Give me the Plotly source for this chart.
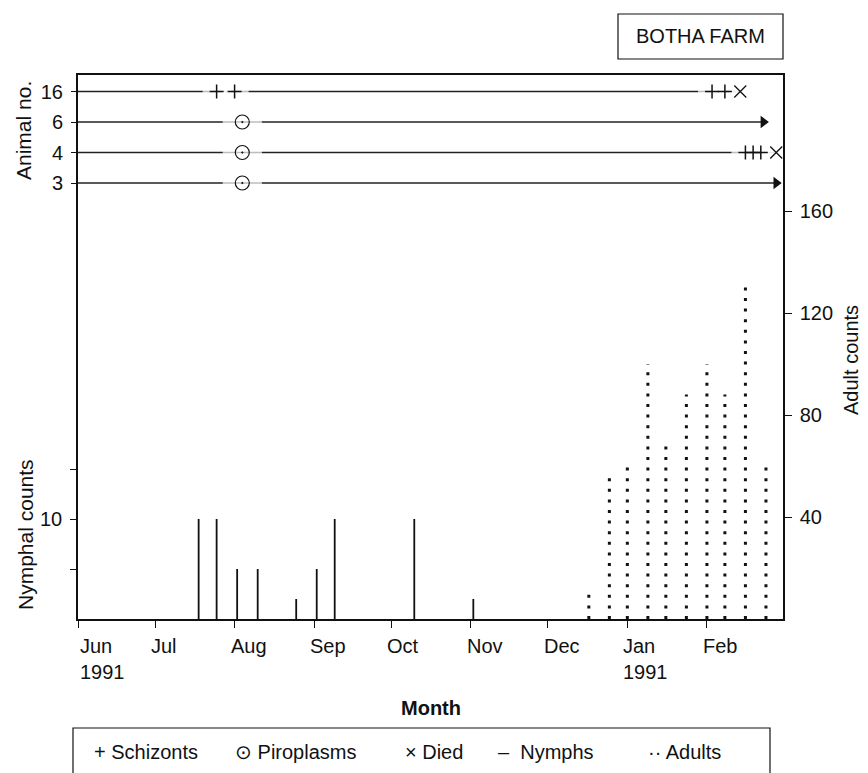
import plotly.graph_objects as go

# ---------------- data ----------------
month_ticks = ["1991-06-01", "1991-07-01", "1991-08-01", "1991-09-01", "1991-10-01",
               "1991-11-01", "1991-12-01", "1992-01-01", "1992-02-01"]
month_labels = ["Jun<br>1991", "Jul", "Aug", "Sep", "Oct", "Nov", "Dec", "Jan<br>1991", "Feb"]

nymph_dates = ["1991-07-18", "1991-07-25", "1991-08-02", "1991-08-10", "1991-08-25",
               "1991-09-02", "1991-09-09", "1991-10-10", "1991-11-02"]
nymph_counts = [10, 10, 5, 5, 2, 5, 10, 10, 2]

adult_dates = ["1991-12-17", "1991-12-25", "1992-01-01", "1992-01-09", "1992-01-16",
               "1992-01-24", "1992-02-01", "1992-02-08", "1992-02-16", "1992-02-24"]
adult_counts = [12, 56, 60, 100, 68, 88, 100, 88, 130, 60]

animal_ids = ["3", "4", "6", "16"]            # bottom to top
animal_start = ["1991-06-01"] * 4
animal_end = ["1992-02-28", "1992-02-28", "1992-02-23", "1992-02-14"]
animal_fate = ["alive", "died", "alive", "died"]

piroplasm_animal = ["3", "4", "6"]
piroplasm_dates = ["1991-08-04", "1991-08-04", "1991-08-04"]

schizont_animal = ["16", "16", "16", "16", "4", "4", "4"]
schizont_dates = ["1991-07-25", "1991-08-01", "1992-02-03", "1992-02-08",
                  "1992-02-16", "1992-02-19", "1992-02-22"]

nymph_ticks = [5, 10, 15]
nymph_ticktext = ["", "10", ""]
adult_ticks = [40, 80, 120, 160]

legend_items = ["+ Schizonts", "⊙ Piroplasms", "× Died", "–  Nymphs", "·· Adults"]
legend_px = [92, 233, 403, 496, 646]

# ---------------- helpers ----------------
FONT = "Liberation Sans, Arial, Helvetica, sans-serif"
INK = "#111111"
ypos = {a: i + 1 for i, a in enumerate(animal_ids)}

def stems(xs, ys):
    X, Y = [], []
    for x, y in zip(xs, ys):
        X += [x, x, None]
        Y += [0, y, None]
    return X, Y

fig = go.Figure()

# nymph stems (left axis)
nx, ny = stems(nymph_dates, nymph_counts)
fig.add_trace(go.Scatter(x=nx, y=ny, mode="lines", yaxis="y",
                         line=dict(color=INK, width=1.8), hoverinfo="skip",
                         showlegend=False))

# adult dotted stems (right axis)
ax_, ay_ = stems(adult_dates, adult_counts)
fig.add_trace(go.Scatter(x=ax_, y=ay_, mode="lines", yaxis="y2",
                         line=dict(color=INK, width=3, dash="3px,7.6px"),
                         hoverinfo="skip", showlegend=False))

# animal timelines
for a, s, e in zip(animal_ids, animal_start, animal_end):
    fig.add_trace(go.Scatter(x=[s, e], y=[ypos[a], ypos[a]], mode="lines",
                             yaxis="y3", line=dict(color="#222222", width=1.5),
                             hoverinfo="skip", showlegend=False))

died_x = [e for e, f in zip(animal_end, animal_fate) if f == "died"]
died_y = [ypos[a] for a, f in zip(animal_ids, animal_fate) if f == "died"]
alive_x = [e for e, f in zip(animal_end, animal_fate) if f == "alive"]
alive_y = [ypos[a] for a, f in zip(animal_ids, animal_fate) if f == "alive"]
pir_y = [ypos[a] for a in piroplasm_animal]
sch_y = [ypos[a] for a in schizont_animal]

# white horizontal masks that break the timelines around the symbols
fig.add_trace(go.Scatter(x=piroplasm_dates + schizont_dates + died_x,
                         y=pir_y + sch_y + died_y, mode="markers", yaxis="y3",
                         marker=dict(symbol="line-ew-open",
                                     size=[28] * len(pir_y) + [20] * len(sch_y) + [16] * len(died_y),
                                     color="white", line=dict(width=7, color="white")),
                         hoverinfo="skip", showlegend=False))

fig.add_trace(go.Scatter(x=piroplasm_dates, y=pir_y, mode="markers", yaxis="y3",
                         marker=dict(symbol="circle-open-dot", size=14, color=INK,
                                     line=dict(width=1.2, color=INK)),
                         hoverinfo="skip", showlegend=False))
fig.add_trace(go.Scatter(x=schizont_dates, y=sch_y, mode="markers", yaxis="y3",
                         marker=dict(symbol="cross-thin-open", size=10, color=INK,
                                     line=dict(width=1.5, color=INK)),
                         hoverinfo="skip", showlegend=False))
fig.add_trace(go.Scatter(x=died_x, y=died_y, mode="markers", yaxis="y3",
                         marker=dict(symbol="x-thin-open", size=12, color=INK,
                                     line=dict(width=1.3, color=INK)),
                         hoverinfo="skip", showlegend=False))
fig.add_trace(go.Scatter(x=alive_x, y=alive_y, mode="markers", yaxis="y3",
                         marker=dict(symbol="triangle-right", size=11, color=INK,
                                     line=dict(width=0)),
                         hoverinfo="skip", showlegend=False))

# ---------------- layout ----------------
# the page body has an 8px margin; the figure is sized to fit the 868x773 window
OFF = 8
W, H = 868 - OFF, 773 - OFF
L, T = 78 - OFF, 75 - OFF
PW, PH = 705, 544
R, B = W - L - PW, H - T - PH
BASE = T + PH + OFF           # page y of the plot bottom

def px2x(px):
    return (px - OFF - L) / PW

def py2y(py):
    return (BASE - py) / PH

tickfont = dict(family=FONT, size=20, color=INK)

fig.update_layout(
    width=W, height=H, margin=dict(l=L, r=R, t=T, b=B, autoexpand=False),
    paper_bgcolor="white", plot_bgcolor="white", showlegend=False,
    font=dict(family=FONT, size=20, color=INK),
    xaxis=dict(type="date", range=["1991-06-01", "1992-03-01 15:20"],
               tickvals=month_ticks, showticklabels=False,
               ticks="outside", ticklen=7, tickwidth=1.3, tickcolor=INK,
               showline=True, linecolor=INK, linewidth=1.5, mirror=True,
               showgrid=False, zeroline=False),
    yaxis=dict(range=[0, PH / 10.0], tickvals=nymph_ticks, ticktext=nymph_ticktext,
               ticks="outside", ticklen=6, tickwidth=1.3, tickcolor=INK,
               tickfont=tickfont, showline=True, linecolor=INK, linewidth=1.5,
               showgrid=False, zeroline=False, ticklabelstandoff=4),
    yaxis2=dict(overlaying="y", side="right", range=[0, PH / 2.55],
                tickvals=adult_ticks, ticks="outside", ticklen=7, tickwidth=1.3,
                tickcolor=INK, tickfont=tickfont, showline=True, linecolor=INK,
                linewidth=1.5, showgrid=False, zeroline=False, ticklabelstandoff=4),
    yaxis3=dict(overlaying="y", side="left",
                range=[1 - (619 - 183) / 30.5, 1 + (183 - 75) / 30.5],
                tickvals=[ypos[a] for a in animal_ids], ticktext=animal_ids,
                ticks="outside", ticklen=6, tickwidth=1.3, tickcolor=INK,
                tickfont=tickfont, showline=False, showgrid=False, zeroline=False,
                ticklabelstandoff=4),
)

ann = []
for i, (d, lab) in enumerate(zip(month_ticks, month_labels)):
    ann.append(dict(x=d, xref="x", y=0, yref="paper", text=lab, showarrow=False,
                    xanchor="left", yanchor="top", align="left",
                    xshift=0 if i == 0 else -6, yshift=-14,
                    font=dict(family=FONT, size=20, color=INK)))

ann.append(dict(x=0.5, xref="paper", y=py2y(708), yref="paper", text="<b>Month</b>",
                showarrow=False, xanchor="center", yanchor="middle",
                font=dict(family=FONT, size=20, color=INK)))
ann.append(dict(x=px2x(25), xref="paper", y=py2y(535), yref="paper", text="Nymphal counts",
                textangle=-90, showarrow=False, xanchor="center", yanchor="middle",
                font=dict(family=FONT, size=21, color=INK)))
ann.append(dict(x=px2x(24), xref="paper", y=py2y(131), yref="paper", text="Animal no.",
                textangle=-90, showarrow=False, xanchor="center", yanchor="middle",
                font=dict(family=FONT, size=21, color=INK)))
ann.append(dict(x=px2x(851), xref="paper", y=py2y(360), yref="paper", text="Adult counts",
                textangle=-90, showarrow=False, xanchor="center", yanchor="middle",
                font=dict(family=FONT, size=20, color=INK)))

# BOTHA FARM box
bx0, bx1, by0, by1 = 618, 783, 14, 59
fig.add_shape(type="rect", xref="paper", yref="paper",
              x0=px2x(bx0), x1=px2x(bx1), y0=py2y(by1), y1=py2y(by0),
              line=dict(color=INK, width=1.2), fillcolor="white")
ann.append(dict(x=px2x((bx0 + bx1) / 2), xref="paper", y=py2y((by0 + by1) / 2), yref="paper",
                text="BOTHA FARM", showarrow=False, xanchor="center", yanchor="middle",
                font=dict(family=FONT, size=20, color=INK)))

# legend box
lx0, lx1, ly0, ly1 = 73, 770, 728, 800
fig.add_shape(type="rect", xref="paper", yref="paper",
              x0=px2x(lx0), x1=px2x(lx1), y0=py2y(ly1), y1=py2y(ly0),
              line=dict(color=INK, width=1.2), fillcolor="white")
for txt, px in zip(legend_items, legend_px):
    ann.append(dict(x=px2x(px), xref="paper", y=py2y(752), yref="paper",
                    text=txt, showarrow=False, xanchor="left", yanchor="middle",
                    font=dict(family=FONT, size=20, color=INK)))

fig.update_layout(annotations=ann)
fig.write_html("out.html",
               post_script="document.documentElement.style.overflow='hidden';"
                           "document.body.style.overflow='hidden';")
